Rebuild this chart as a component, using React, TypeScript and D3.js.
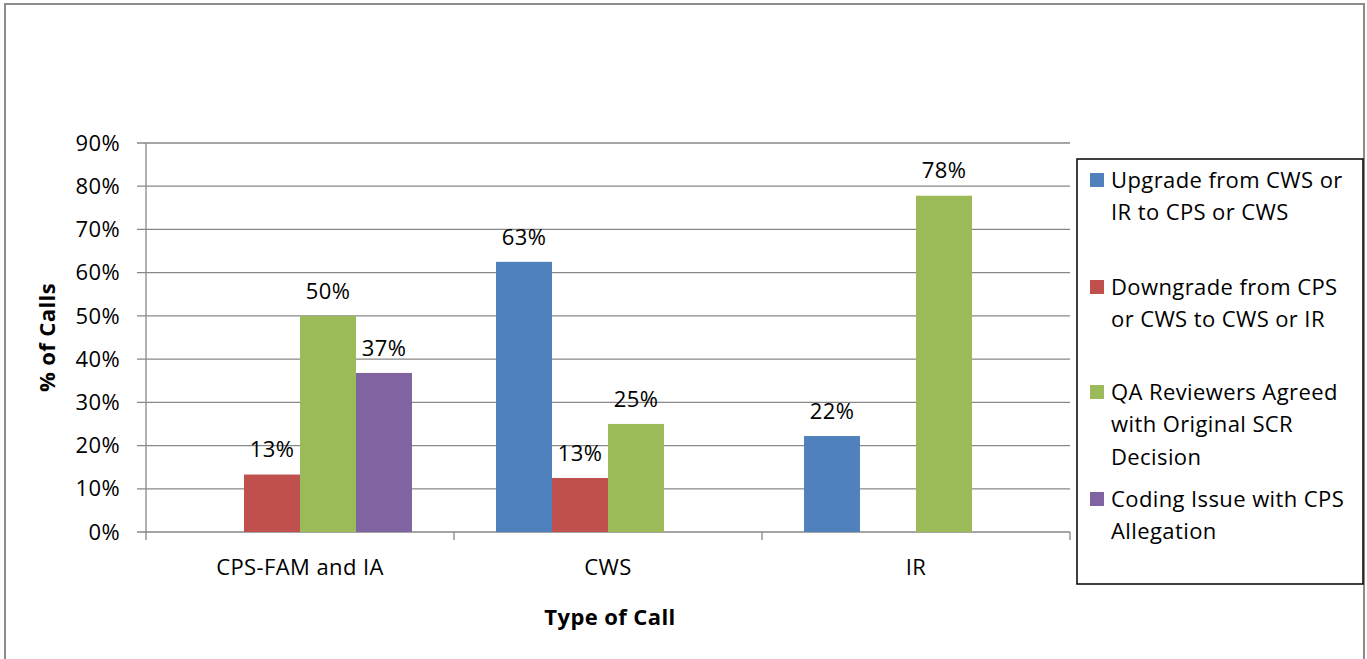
import React from "react";
import * as d3 from "d3";

const categories = ["CPS-FAM and IA", "CWS", "IR"];
const seriesNames = [
  "Upgrade from CWS or IR to CPS or CWS",
  "Downgrade from CPS or CWS to CWS or IR",
  "QA Reviewers Agreed with Original SCR Decision",
  "Coding Issue with CPS Allegation",
];
const legendLines = [
  ["Upgrade from CWS or", "IR to CPS or CWS"],
  ["Downgrade from CPS", "or CWS to CWS or IR"],
  ["QA Reviewers Agreed", "with Original SCR", "Decision"],
  ["Coding Issue with CPS", "Allegation"],
];
const seriesColors = ["#4F81BD", "#C0504D", "#9BBB59", "#8064A2"];
// values per series, per category (null = no bar)
const upgradeValues = [null, 0.625, 0.222];
const downgradeValues = [0.133, 0.125, null];
const agreedValues = [0.5, 0.25, 0.778];
const codingValues = [0.368, null, null];
const seriesValues = [upgradeValues, downgradeValues, agreedValues, codingValues];
const yTicks = [0, 0.1, 0.2, 0.3, 0.4, 0.5, 0.6, 0.7, 0.8, 0.9];

const FONT = "'Open Sans', Lato, sans-serif";
const FS = 22;
const LS = 0.4;

export default function App() {
  const W = 1367, H = 659;
  const left = 146, right = 1070, top = 143, bottom = 532;
  const y = d3.scaleLinear().domain([0, 0.9]).range([bottom, top]);
  const x = d3.scaleBand<string>().domain(categories).range([left, right]).paddingInner(0).paddingOuter(0);
  const bw = x.bandwidth();
  const inner = d3.scaleBand<number>().domain(d3.range(seriesNames.length)).range([bw * 0.1364, bw * (1 - 0.1364)]).padding(0);
  const fmt = d3.format(".0%");
  const grid = "#878787";

  return (
    <svg width={W} height={H} style={{ position: "absolute", left: 0, top: 0, background: "#fff" }} fontFamily={FONT} letterSpacing={LS}>
      <rect x={5} y={4} width={1359} height={700} fill="#fff" stroke="#8c8c8c" strokeWidth={2} />
      {yTicks.map((t) => (
        <g key={t}>
          <line x1={left - 9} x2={right} y1={y(t)} y2={y(t)} stroke={grid} strokeWidth={1.3} />
          <text x={120} y={y(t)} dy="0.35em" textAnchor="end" fontSize={FS} fill="#000">{fmt(t)}</text>
        </g>
      ))}
      <line x1={left} x2={left} y1={top} y2={bottom} stroke={grid} strokeWidth={1.3} />
      {[...categories.map((c) => x(c) as number), right].map((px, i) => (
        <line key={i} x1={px} x2={px} y1={bottom} y2={bottom + 8} stroke={grid} strokeWidth={1.3} />
      ))}
      {seriesValues.map((vals, si) =>
        vals.map((v, ci) =>
          v == null ? null : (
            <g key={`${si}-${ci}`}>
              <rect
                x={(x(categories[ci]) as number) + (inner(si) as number)}
                y={y(v)}
                width={inner.bandwidth()}
                height={bottom - y(v)}
                fill={seriesColors[si]}
              />
              <text
                x={(x(categories[ci]) as number) + (inner(si) as number) + inner.bandwidth() / 2}
                y={y(v) - 25}
                dy="0.35em"
                textAnchor="middle"
                fontSize={FS}
                fill="#000"
              >
                {fmt(v)}
              </text>
            </g>
          )
        )
      )}
      {categories.map((c) => (
        <text key={c} x={(x(c) as number) + bw / 2} y={567} dy="0.35em" textAnchor="middle" fontSize={FS} fill="#000">
          {c}
        </text>
      ))}
      <text x={610} y={617} dy="0.35em" textAnchor="middle" fontSize={FS} fontWeight="bold" fill="#000">Type of Call</text>
      <text transform={`translate(47,${(top + bottom) / 2}) rotate(-90)`} dy="0.35em" textAnchor="middle" fontSize={FS} fontWeight="bold" fill="#000">% of Calls</text>
      <rect x={1077} y={159} width={286} height={425} fill="#fff" stroke="#000" strokeWidth={1.5} />
      {legendLines.map((lines, i) => {
        const y0 = [180, 287, 392, 499][i];
        return (
          <g key={i}>
            <rect x={1090} y={y0 - 7} width={14} height={14} fill={seriesColors[i]} />
            {lines.map((ln, j) => (
              <text key={j} x={1111} y={y0 + j * 32.5} dy="0.35em" fontSize={FS} fill="#000">{ln}</text>
            ))}
          </g>
        );
      })}
    </svg>
  );
}
